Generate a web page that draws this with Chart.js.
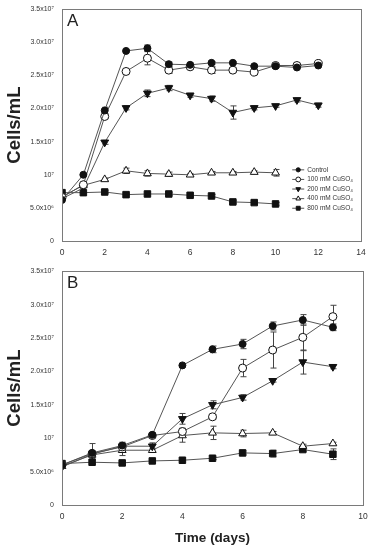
<!DOCTYPE html>
<html><head><meta charset="utf-8">
<script src="https://cdn.jsdelivr.net/npm/chart.js@4/dist/chart.umd.min.js"></script>
<style>
html,body{margin:0;padding:0;background:#fff;width:374px;height:550px;overflow:hidden}
canvas{position:absolute;left:0}
#cA{top:0}#cB{top:262px}
</style></head><body>
<canvas id="cA" width="374" height="262"></canvas>
<canvas id="cB" width="374" height="288"></canvas>
<script>
// ---- data (cells/mL in units of 1e7) ----
const seriesNames = ['Control','100 mM CuSO\u2084','200 mM CuSO\u2084','400 mM CuSO\u2084','800 mM CuSO\u2084'];
const yTickLabels = ['0','5.0x10\u2076','10\u2077','1.5x10\u2077','2.0x10\u2077','2.5x10\u2077','3.0x10\u2077','3.5x10\u2077'];
const xTitle = 'Time (days)';
const yTitle = 'Cells/mL';

// Panel A
const daysA = [0,1,2,3,4,5,6,7,8,9,10,11,12];
const controlA = [0.62,1.00,1.97,2.87,2.91,2.67,2.66,2.69,2.69,2.64,2.64,2.62,2.65];
const cu100A   = [0.66,0.85,1.88,2.56,2.76,2.58,2.63,2.58,2.58,2.55,2.65,2.65,2.68];
const cu200A   = [0.64,0.80,1.49,2.01,2.23,2.31,2.20,2.15,1.94,2.01,2.04,2.13,2.05];
const cu400A   = [0.67,0.84,0.93,1.06,1.02,1.01,1.00,1.03,1.03,1.04,1.03];
const cu800A   = [0.73,0.73,0.74,0.70,0.71,0.71,0.69,0.68,0.59,0.58,0.56];
const errControlA = [0,0,0.05,0.02,0.05,0.03,0.03,0.02,0.02,0.02,0.02,0.02,0.02];
const err100A     = [0,0,0.03,0.02,0.10,0.05,0.03,0.05,0.03,0.02,0.02,0.02,0.02];
const err200A     = [0,0,0.03,0.03,0.05,0.04,0.03,0.04,0.10,0.03,0.02,0.03,0.03];
const err400A     = [0,0,0.02,0.04,0.04,0.03,0.02,0.02,0.02,0.02,0.05];
const err800A     = [0,0,0.02,0.02,0.02,0.02,0.02,0.02,0.02,0.02,0.02];

// Panel B
const daysB = [0,1,2,3,4,5,6,7,8,9];
const controlB = [0.60,0.78,0.89,1.05,2.09,2.33,2.41,2.68,2.77,2.66];
const cu100B   = [0.60,0.77,0.87,1.04,1.10,1.32,2.05,2.32,2.51,2.82];
const cu200B   = [0.57,0.76,0.88,0.88,1.29,1.50,1.61,1.86,2.14,2.07];
const cu400B   = [0.58,0.75,0.82,0.82,1.04,1.08,1.07,1.08,0.88,0.92];
const cu800B   = [0.62,0.64,0.63,0.66,0.67,0.70,0.78,0.77,0.83,0.76];
const errControlB = [0,0.02,0.05,0.03,0.02,0.05,0.07,0.06,0.08,0.05];
const err100B     = [0,0.15,0.05,0.03,0.05,0.03,0.13,0.27,0.20,0.17];
const err200B     = [0,0.05,0.05,0.05,0.08,0.06,0.04,0.02,0.18,0.03];
const err400B     = [0,0.05,0.08,0.03,0.10,0.10,0.05,0.02,0.03,0.02];
const err800B     = [0,0.03,0.02,0.02,0.02,0.02,0.03,0.05,0.03,0.08];

// ---- styles ----
const FONT = "'Liberation Sans', Arial, sans-serif";
const markerStyles = [
  {pointStyle:'circle',   radius:3.5, rotation:0,   fill:'#111'},
  {pointStyle:'circle',   radius:4.0, rotation:0,   fill:'#fff'},
  {pointStyle:'triangle', radius:4.5, rotation:180, fill:'#111'},
  {pointStyle:'triangle', radius:4.5, rotation:0,   fill:'#fff'},
  {pointStyle:'rect',     radius:4.6, rotation:0,   fill:'#111'}
];

function pts(days, vals){ return vals.map((v,i)=>({x:days[i], y:v})); }
function makeDatasets(days, series, errs){
  return series.map((vals,k)=>({
    label: seriesNames[k],
    data: pts(days, vals),
    err: errs[k],
    borderColor:'#555', borderWidth:1,
    pointStyle: markerStyles[k].pointStyle,
    pointRadius: markerStyles[k].radius,
    pointRotation: markerStyles[k].rotation,
    pointBackgroundColor: markerStyles[k].fill,
    pointBorderColor:'#111', pointBorderWidth:1,
    pointHoverRadius: markerStyles[k].radius,
    tension:0, fill:false
  }));
}

const errPlugin = {id:'errbars', beforeDatasetsDraw(chart){
  const {ctx} = chart; const x = chart.scales.x, y = chart.scales.y;
  ctx.save(); ctx.strokeStyle='#444'; ctx.lineWidth=1;
  chart.data.datasets.forEach(ds=>{
    if(!ds.err) return;
    ds.data.forEach((p,i)=>{
      const e = ds.err[i]; if(!e) return;
      const px = Math.round(x.getPixelForValue(p.x))+0.5;
      const y1 = y.getPixelForValue(p.y+e), y2 = y.getPixelForValue(p.y-e);
      ctx.beginPath();
      ctx.moveTo(px,y1); ctx.lineTo(px,y2);
      ctx.moveTo(px-3,y1); ctx.lineTo(px+3,y1);
      ctx.moveTo(px-3,y2); ctx.lineTo(px+3,y2);
      ctx.stroke();
    });
  });
  ctx.restore();
}};

const framePlugin = {id:'frame', afterDatasetsDraw(chart){
  const {ctx, chartArea:a} = chart;
  ctx.save(); ctx.strokeStyle='#7a7a7a'; ctx.lineWidth=1;
  ctx.strokeRect(Math.round(a.left)+0.5, Math.round(a.top)+0.5, Math.round(a.right-a.left), Math.round(a.bottom-a.top));
  ctx.restore();
}};

const letterPlugin = {id:'panelLetter', afterDraw(chart, args, opts){
  const {ctx, chartArea:a} = chart;
  ctx.save(); ctx.fillStyle='#222'; ctx.font = '17px '+FONT;
  ctx.textBaseline='middle'; ctx.textAlign='left';
  ctx.fillText(opts.text, a.left+5, a.top+12);
  ctx.restore();
}};

const legendPlugin = {id:'innerLegend', afterDraw(chart, args, opts){
  if(!opts.show) return;
  const {ctx, chartArea:a} = chart;
  const x0 = a.left + (a.right-a.left)*0.77;
  let y0 = a.top + (a.bottom-a.top)*0.693;
  const step = 9.6;
  ctx.save();
  chart.data.datasets.forEach((ds,k)=>{
    const yy = y0 + k*step;
    ctx.strokeStyle='#555'; ctx.lineWidth=1;
    ctx.beginPath(); ctx.moveTo(x0,yy); ctx.lineTo(x0+12,yy); ctx.stroke();
    ctx.fillStyle = markerStyles[k].fill; ctx.strokeStyle='#111';
    Chart.helpers.drawPoint(ctx, {pointStyle:markerStyles[k].pointStyle, radius:markerStyles[k].radius*0.6, rotation:markerStyles[k].rotation, borderWidth:1}, x0+6, yy);
    ctx.fillStyle='#333'; ctx.font='6.5px '+FONT; ctx.textBaseline='middle'; ctx.textAlign='left';
    ctx.fillText(ds.label, x0+15, yy);
  });
  ctx.restore();
}};

function makeChart(id, days, series, errs, xmax, opts){
  return new Chart(document.getElementById(id), {
    type:'line',
    data:{datasets: makeDatasets(days, series, errs)},
    plugins:[errPlugin, framePlugin, letterPlugin, legendPlugin],
    options:{
      responsive:false, animation:false, devicePixelRatio:1,
      layout:{padding:{left:0, right:opts.padRight, top:7, bottom:0}},
      plugins:{legend:{display:false}, tooltip:{enabled:false},
        panelLetter:{text:opts.letter}, innerLegend:{show:opts.legend}},
      scales:{
        x:{type:'linear', min:0, max:xmax,
          ticks:{stepSize:2, color:'#333', font:{family:FONT, size:8.5}, padding:4},
          grid:{display:false, drawTicks:true, tickLength:3, tickColor:'#7a7a7a'},
          border:{display:true, color:'#7a7a7a'},
          title:{display:opts.xTitle, text:xTitle, color:'#222', font:{family:FONT, size:13.5, weight:'bold'}, padding:{top:0,bottom:4}},
          afterFit(s){ s.height = opts.xH; }
        },
        y:{min:0, max:3.5,
          ticks:{stepSize:0.5, color:'#333', font:{family:FONT, size:7}, padding:5,
            callback:(v)=>{ const i = Math.round(v/0.5); return yTickLabels[i]; }},
          grid:{display:false, drawTicks:true, tickLength:3, tickColor:'#7a7a7a'},
          border:{display:true, color:'#7a7a7a'},
          title:{display:true, text:yTitle, color:'#222', font:{family:FONT, size:18.5, weight:'bold'}, padding:{top:4,bottom:0}},
          afterFit(s){ s.width = 62; }
        }
      }
    }
  });
}

makeChart('cA', daysA, [controlA,cu100A,cu200A,cu400A,cu800A], [errControlA,err100A,err200A,err400A,err800A], 14,
  {padRight:13, letter:'A', legend:true, xTitle:false, xH:21});
makeChart('cB', daysB, [controlB,cu100B,cu200B,cu400B,cu800B], [errControlB,err100B,err200B,err400B,err800B], 10,
  {padRight:11, letter:'B', legend:false, xTitle:true, xH:45});
</script>
</body></html>
